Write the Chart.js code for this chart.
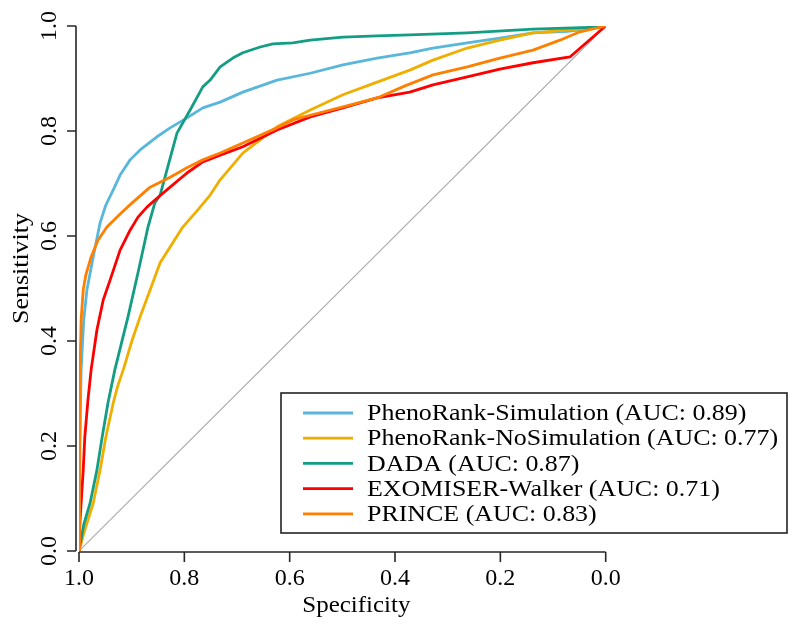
<!DOCTYPE html>
<html>
<head>
<meta charset="utf-8">
<script src="https://cdn.jsdelivr.net/npm/chart.js@4/dist/chart.umd.min.js"></script>
<style>
html,body{margin:0;padding:0;background:#fff;}
#wrap{width:800px;height:631px;position:relative;}
</style>
</head>
<body>
<div id="wrap"><canvas id="c" width="800" height="631"></canvas></div>
<script>
// ---- data (specificity, sensitivity) ----
const seriesNames = [
  "PhenoRank-Simulation (AUC: 0.89)",
  "PhenoRank-NoSimulation (AUC: 0.77)",
  "DADA (AUC: 0.87)",
  "EXOMISER-Walker (AUC: 0.71)",
  "PRINCE (AUC: 0.83)"
];
const seriesColors = ["#58B7DA", "#EFAE00", "#139E84", "#FF0000", "#FF8000"];

const simSpec = [1,0.999,0.997,0.996,0.991,0.985,0.973,0.960,0.949,0.935,0.922,0.903,0.884,0.852,0.827,0.795,0.765,0.732,0.689,0.624,0.561,0.499,0.434,0.372,0.328,0.263,0.201,0.138,0.073,0.036,0];
const simSens = [0,0.135,0.288,0.345,0.440,0.497,0.560,0.625,0.659,0.688,0.716,0.745,0.764,0.789,0.806,0.825,0.844,0.855,0.874,0.897,0.910,0.926,0.939,0.949,0.958,0.968,0.977,0.987,0.990,0.994,1];

const noSimSpec = [1,0.989,0.973,0.960,0.949,0.935,0.926,0.916,0.899,0.884,0.865,0.846,0.827,0.803,0.776,0.751,0.732,0.689,0.624,0.561,0.499,0.434,0.372,0.328,0.263,0.201,0.138,0.073,0.011,0];
const noSimSens = [0,0.040,0.091,0.154,0.217,0.282,0.316,0.345,0.402,0.446,0.497,0.549,0.579,0.617,0.648,0.678,0.707,0.758,0.808,0.840,0.869,0.893,0.916,0.935,0.958,0.973,0.987,0.992,0.998,1];

const dadaSpec = [1,0.991,0.979,0.966,0.956,0.945,0.932,0.907,0.888,0.869,0.856,0.846,0.833,0.814,0.789,0.765,0.751,0.732,0.708,0.689,0.656,0.632,0.594,0.561,0.499,0.434,0.372,0.263,0.138,0.011,0];
const dadaSens = [0,0.050,0.091,0.154,0.217,0.282,0.345,0.446,0.530,0.617,0.663,0.678,0.726,0.796,0.840,0.884,0.897,0.922,0.939,0.949,0.960,0.966,0.968,0.973,0.979,0.981,0.983,0.987,0.994,0.998,1];

const exoSpec = [1,0.998,0.996,0.992,0.989,0.983,0.977,0.966,0.954,0.941,0.922,0.903,0.888,0.871,0.852,0.827,0.795,0.765,0.732,0.689,0.624,0.561,0.499,0.434,0.372,0.328,0.263,0.201,0.138,0.068,0];
const exoSens = [0,0.059,0.091,0.154,0.217,0.288,0.345,0.421,0.478,0.516,0.573,0.611,0.636,0.655,0.672,0.693,0.720,0.741,0.754,0.770,0.802,0.827,0.844,0.863,0.874,0.888,0.903,0.918,0.930,0.941,1];

const princeSpec = [1,0.999,0.998,0.996,0.992,0.987,0.977,0.964,0.947,0.922,0.897,0.865,0.827,0.795,0.765,0.732,0.689,0.624,0.594,0.561,0.499,0.434,0.381,0.328,0.263,0.201,0.138,0.087,0.049,0];
const princeSens = [0,0.173,0.345,0.440,0.497,0.526,0.560,0.592,0.617,0.642,0.665,0.693,0.712,0.730,0.745,0.758,0.777,0.806,0.821,0.830,0.846,0.863,0.886,0.907,0.922,0.939,0.954,0.973,0.989,1];

const diagSpec = [1, 0];
const diagSens = [0, 1];

const xTicks = [1.0, 0.8, 0.6, 0.4, 0.2, 0.0];
const yTicks = [0.0, 0.2, 0.4, 0.6, 0.8, 1.0];
const xTitle = "Specificity";
const yTitle = "Sensitivity";

function pts(xs, ys){ return xs.map((x,i)=>({x:x, y:ys[i]})); }

const specs = [simSpec, noSimSpec, dadaSpec, exoSpec, princeSpec];
const sens  = [simSens, noSimSens, dadaSens, exoSens, princeSens];

const FONT = '"Liberation Serif", "DejaVu Serif", serif';

const datasets = [{
  label: "diag",
  data: pts(diagSpec, diagSens),
  borderColor: "#A8A8A8",
  borderWidth: 1.1,
  pointRadius: 0,
  fill: false,
  order: 10
}];
seriesNames.forEach((n,i)=>{
  datasets.push({
    label: n,
    data: pts(specs[i], sens[i]),
    borderColor: seriesColors[i],
    borderWidth: 2.8,
    pointRadius: 0,
    fill: false,
    tension: 0,
    order: 5 - i
  });
});

const axesPlugin = {
  id: "rAxes",
  afterDraw(chart){
    const ctx = chart.ctx;
    const xs = chart.scales.x, ys = chart.scales.y;
    const ca = chart.chartArea;
    ctx.save();
    ctx.strokeStyle = "#262626";
    ctx.lineWidth = 1.6;
    ctx.fillStyle = "#000";
    // x axis
    const xAxisY = ca.bottom + 1;
    ctx.beginPath();
    ctx.moveTo(xs.getPixelForValue(xTicks[0]), xAxisY);
    ctx.lineTo(xs.getPixelForValue(xTicks[xTicks.length-1]), xAxisY);
    xTicks.forEach(v=>{
      const px = xs.getPixelForValue(v);
      ctx.moveTo(px, xAxisY);
      ctx.lineTo(px, xAxisY + 10);
    });
    ctx.stroke();
    ctx.font = "24px " + FONT;
    ctx.textAlign = "center";
    ctx.textBaseline = "middle";
    xTicks.forEach(v=>{
      ctx.fillText(v.toFixed(1), xs.getPixelForValue(v), xAxisY + 27);
    });
    // y axis
    const yAxisX = ca.left - 3;
    ctx.beginPath();
    ctx.moveTo(yAxisX, ys.getPixelForValue(yTicks[0]));
    ctx.lineTo(yAxisX, ys.getPixelForValue(yTicks[yTicks.length-1]));
    yTicks.forEach(v=>{
      const py = ys.getPixelForValue(v);
      ctx.moveTo(yAxisX, py);
      ctx.lineTo(yAxisX - 9, py);
    });
    ctx.stroke();
    yTicks.forEach(v=>{
      const py = ys.getPixelForValue(v);
      ctx.save();
      ctx.translate(yAxisX - 26, py);
      ctx.rotate(-Math.PI/2);
      ctx.fillText(v.toFixed(1), 0, 0);
      ctx.restore();
    });
    // titles
    ctx.save();
    ctx.translate((ca.left + ca.right)/2 + 14, ca.bottom + 55);
    ctx.scale(1.04, 1);
    ctx.fillText(xTitle, 0, 0);
    ctx.restore();
    ctx.save();
    ctx.translate(22, (ca.top + ca.bottom)/2 - 20);
    ctx.rotate(-Math.PI/2);
    ctx.scale(1.08, 1);
    ctx.fillText(yTitle, 0, 0);
    ctx.restore();

    // legend
    const lx = ca.left + 202, ly = ca.bottom - 158, lw = 506, lh = 140;
    ctx.fillStyle = "#fff";
    ctx.fillRect(lx, ly, lw, lh);
    ctx.strokeStyle = "#222";
    ctx.lineWidth = 1.6;
    ctx.strokeRect(lx, ly, lw, lh);
    ctx.font = "24px " + FONT;
    ctx.textAlign = "left";
    ctx.textBaseline = "middle";
    seriesNames.forEach((n,i)=>{
      const yy = ly + 20 + i*25.2;
      ctx.strokeStyle = seriesColors[i];
      ctx.lineWidth = 2.8;
      ctx.beginPath();
      ctx.moveTo(lx + 22, yy);
      ctx.lineTo(lx + 72, yy);
      ctx.stroke();
      ctx.fillStyle = "#000";
      ctx.save();
      ctx.translate(lx + 86, yy + 1);
      ctx.scale(1.08, 1);
      ctx.fillText(n, 0, 0);
      ctx.restore();
    });
    ctx.restore();
  }
};

new Chart(document.getElementById("c"), {
  type: "line",
  data: { datasets: datasets },
  options: {
    responsive: false,
    animation: false,
    devicePixelRatio: 1,
    layout: { padding: { left: 79, top: 26, right: 194.3, bottom: 80 } },
    plugins: { legend: { display: false }, tooltip: { enabled: false } },
    scales: {
      x: { type: "linear", min: 0, max: 1, reverse: true, display: false },
      y: { type: "linear", min: 0, max: 1, display: false }
    },
    elements: { line: { borderJoinStyle: "round", borderCapStyle: "round" } }
  },
  plugins: [axesPlugin]
});
</script>
</body>
</html>
